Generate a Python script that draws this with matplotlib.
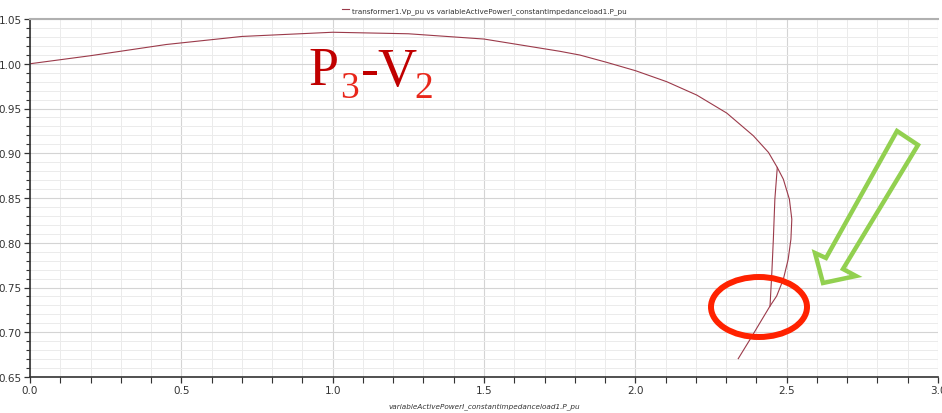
import matplotlib
matplotlib.use("Agg")
import matplotlib.pyplot as plt
from matplotlib.patches import Ellipse, Polygon
from matplotlib.ticker import MultipleLocator, FormatStrFormatter

# P-V curve (P in pu, V in pu)
p_main = [0.0, 0.2, 0.45, 0.7, 1.0, 1.25, 1.5, 1.751, 1.817, 1.905,
          2.001, 2.104, 2.203, 2.302, 2.390, 2.440, 2.469, 2.489, 2.509, 2.517,
          2.514, 2.505, 2.489, 2.467, 2.445, 2.412, 2.379, 2.340]
v_main = [1.000, 1.009, 1.0215, 1.0305, 1.0352, 1.0335, 1.0276, 1.0139, 1.0097, 1.0016,
          0.9922, 0.9799, 0.9650, 0.9449, 0.9195, 0.9009, 0.8841, 0.8710, 0.8486, 0.8263,
          0.8039, 0.7815, 0.7592, 0.7405, 0.7293, 0.7107, 0.6920, 0.6705]
# second branch that drops almost straight down inside the nose
p_inner = [2.469, 2.461, 2.456, 2.451, 2.445]
v_inner = [0.8841, 0.8487, 0.8039, 0.7667, 0.7293]

LINE_COLOR = "#9b3a4a"
W, H = 942, 414

fig = plt.figure(figsize=(W / 100, H / 100), dpi=100)
ax = fig.add_axes([30 / W, 36 / H, 908 / W, 358 / H])

ax.plot(p_main, v_main, color=LINE_COLOR, lw=0.8,
        label="transformer1.Vp_pu vs variableActivePowerI_constantimpedanceload1.P_pu")
ax.plot(p_inner, v_inner, color=LINE_COLOR, lw=0.8)

ax.set_xlim(0, 3.0)
ax.set_ylim(0.65, 1.05)
ax.xaxis.set_major_locator(MultipleLocator(0.5))
ax.xaxis.set_minor_locator(MultipleLocator(0.1))
ax.yaxis.set_major_locator(MultipleLocator(0.05))
ax.yaxis.set_minor_locator(MultipleLocator(0.01))
ax.xaxis.set_major_formatter(FormatStrFormatter("%.1f"))
ax.yaxis.set_major_formatter(FormatStrFormatter("%.2f"))

ax.grid(which="major", color="#d4d4d4", lw=0.8)
ax.grid(which="minor", color="#ebebeb", lw=0.7)
ax.set_axisbelow(True)

for s in ["left", "bottom"]:
    ax.spines[s].set_color("#333333")
    ax.spines[s].set_linewidth(1.2)
ax.spines["top"].set_color("#b0b0b0")
ax.spines["top"].set_linewidth(1.5)
ax.spines["right"].set_visible(False)

ax.tick_params(which="major", length=4, width=0.9, color="#333333",
               labelsize=7.5, labelcolor="#333333", pad=2)
ax.tick_params(which="minor", length=3, width=0.8, color="#333333")
ax.tick_params(axis="x", which="minor", length=4)

ax.set_xlabel("variableActivePowerI_constantimpedanceload1.P_pu",
              fontsize=5.2, style="italic", color="#333333", labelpad=5)
ax.legend(loc="lower center", bbox_to_anchor=(0.5, 1.0), frameon=False,
          fontsize=5.2, handlelength=1.0, handletextpad=0.4, borderpad=0.25,
          labelcolor="#333333")

# P3-V2 label
def px_text(x, y, s, size, color):
    fig.text(x / W, 1 - y / H, s, fontsize=size, color=color,
             family="Liberation Serif", va="baseline", ha="left")

px_text(308, 85, "P", 39, "#c00000")
px_text(340, 98, "3", 27, "#e8261a")
px_text(361, 86, "-", 39, "#c00000")
px_text(377, 86, "V", 39, "#c00000")
px_text(414, 98, "2", 27, "#e8261a")

# green hollow arrow
arrow_px = [(897, 132), (918, 146), (843, 270), (856, 277), (823, 284),
            (815, 254), (826, 259)]
fig.patches.append(Polygon([(x / W, 1 - y / H) for x, y in arrow_px], closed=True,
                           fill=False, edgecolor="#92d050", lw=3.2,
                           joinstyle="miter", transform=fig.transFigure))

# red ellipse
fig.patches.append(Ellipse((759 / W, 1 - 308 / H), 96 / W, 60 / H, fill=False,
                           edgecolor="#ff2200", lw=4.3, transform=fig.transFigure))

fig.savefig("out.png", dpi=100)
